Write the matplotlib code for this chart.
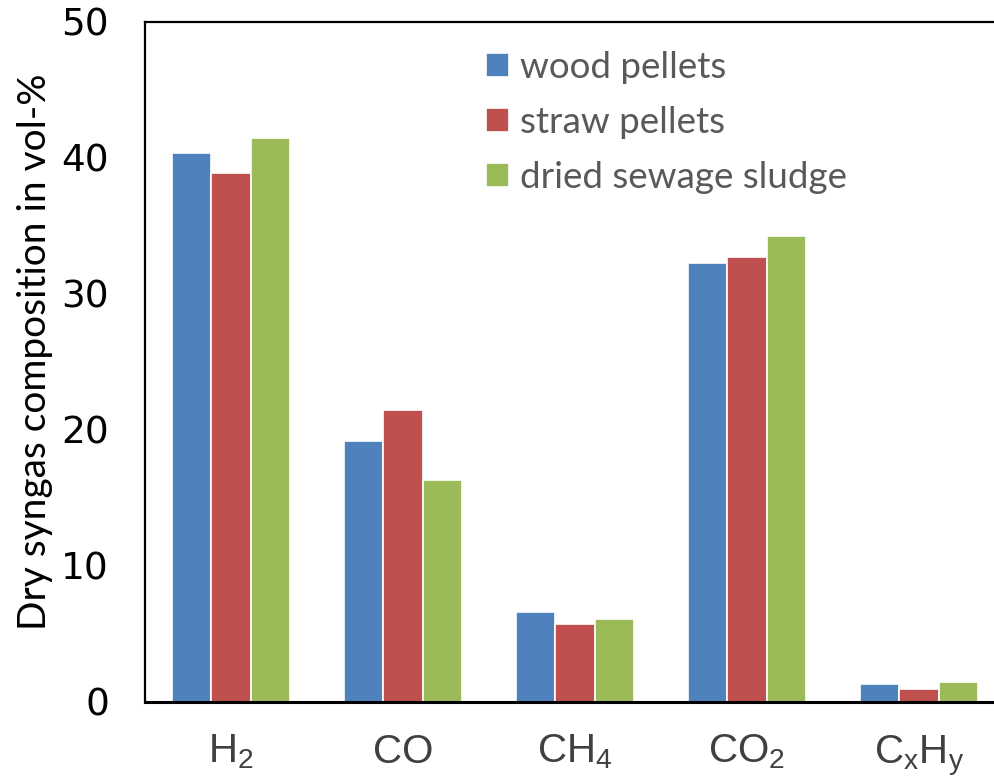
import matplotlib
matplotlib.use("Agg")
import matplotlib.pyplot as plt
import numpy as np

categories = [r"$\mathregular{H_2}$", "CO", r"$\mathregular{CH_4}$", r"$\mathregular{CO_2}$", r"$\mathregular{C_xH_y}$"]
series_names = ["wood pellets", "straw pellets", "dried sewage sludge"]
wood = [40.4, 19.2, 6.6, 32.3, 1.3]
straw = [38.9, 21.5, 5.7, 32.7, 0.95]
sludge = [41.5, 16.3, 6.1, 34.3, 1.5]
yticks = [0, 10, 20, 30, 40, 50]
colors = ["#4F81BD", "#C0504D", "#9BBB59"]

fig = plt.figure(figsize=(9.94, 7.79), dpi=100)
W, H = 994, 779
ax = fig.add_axes([145 / W, (H - 702) / H, 860 / W, 680 / H])

x = np.arange(len(categories))
width = 0.23
for i, (vals, name, c) in enumerate(zip([wood, straw, sludge], series_names, colors)):
    ax.bar(x + (i - 1) * width, vals, width, color=c, edgecolor="white", linewidth=1.2, label=name, zorder=2)

ax.set_xlim(-0.5, 4.5)
ax.set_ylim(0, 50)
ax.set_yticks(yticks)
ax.set_yticklabels([str(t) for t in yticks], fontsize=27, family="DejaVu Sans", color="black")
ax.tick_params(axis="y", length=0, pad=26)
ax.set_xticks(x)
ax.set_xticklabels(categories, fontsize=29, family="Liberation Sans", color="#404040")
ax.tick_params(axis="x", length=0, pad=22)

for s in ["top", "left"]:
    ax.spines[s].set_linewidth(1.6)
    ax.spines[s].set_color("black")
ax.spines["bottom"].set_linewidth(2.2)
ax.spines["right"].set_visible(False)

fig.text(35 / W, 1 - 352 / H, "Dry syngas composition in vol-%", rotation=90,
         ha="center", va="center", fontsize=28, family="Lato", color="black")

leg = ax.legend(loc="upper left", bbox_to_anchor=(486 / W, 1 - 51 / H), bbox_transform=fig.transFigure,
                frameon=False, handlelength=0.62, handleheight=0.62,
                handletextpad=0.3, labelspacing=0.6, borderpad=0.0, borderaxespad=0.0,
                prop={"family": "Lato", "size": 26.5})
for t in leg.get_texts():
    t.set_color("#595959")

fig.savefig("out.png", dpi=100)
